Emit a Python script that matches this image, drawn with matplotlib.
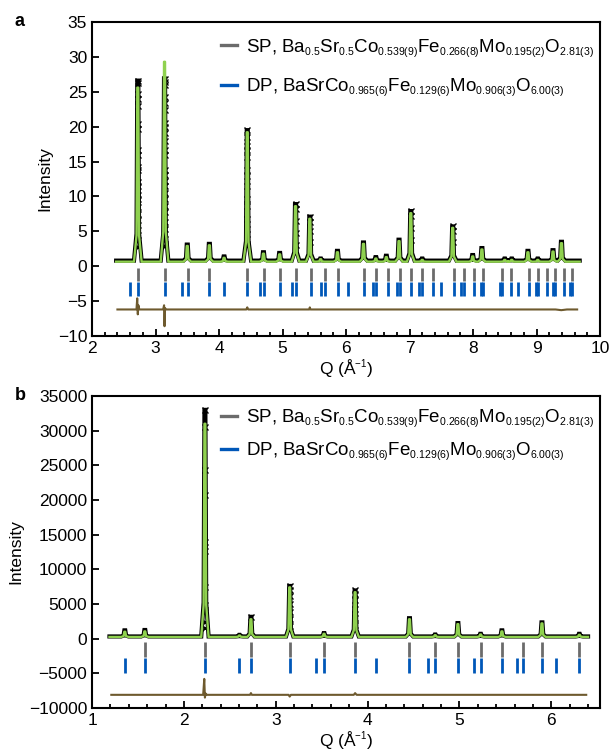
import numpy as np
import matplotlib
matplotlib.use("Agg")
import matplotlib.pyplot as plt
import matplotlib._mathtext as mathtext_internal
from matplotlib.ticker import MultipleLocator

plt.rcParams["font.family"] = ["Liberation Sans", "DejaVu Sans"]
plt.rcParams["mathtext.fontset"] = "custom"
plt.rcParams["mathtext.rm"] = "Liberation Sans"
plt.rcParams["mathtext.it"] = "Liberation Sans:italic"
plt.rcParams["mathtext.bf"] = "Liberation Sans:bold"
plt.rcParams["mathtext.default"] = "rm"
# the subscripts in the figure are set noticeably smaller than mathtext's default
mathtext_internal.SHRINK_FACTOR = 0.56

# ---------------- panel a ----------------
a_peak_q = [2.721, 3.142, 3.50, 3.848, 4.08, 4.445, 4.70, 4.955, 5.205, 5.43,
            5.60, 5.865, 6.275, 6.47, 6.635, 6.835, 7.02, 7.20, 7.68, 7.995,
            8.14, 8.50, 8.61, 8.865, 9.02, 9.26, 9.393]
a_calc_h = [25.6, 29.3, 2.9, 3.0, 1.2, 19.2, 1.8, 1.7, 8.6, 6.8,
            1.0, 2.0, 3.2, 1.1, 1.3, 3.6, 7.6, 0.9, 5.5, 1.4,
            2.4, 0.9, 0.9, 2.0, 0.9, 2.1, 3.3]
a_obs_h = [26.6, 26.9, 3.1, 3.2, 1.4, 19.5, 2.0, 1.9, 8.9, 7.1,
           1.1, 2.2, 3.4, 1.3, 1.5, 3.8, 7.9, 1.1, 5.7, 1.6,
           2.6, 1.1, 1.1, 2.2, 1.1, 2.3, 3.5]
a_calc_base = 0.65
a_obs_base = 0.8
a_q_range = (2.38, 9.68)

# individual observed points visible on the strong peaks
a_pts_q = ([2.721] * 21 + [3.142] * 24 + [4.445] * 14 + [5.205] * 5
           + [5.43] * 4 + [7.02] * 4 + [7.68] * 3)
a_pts_i = [26.6, 26.2, 24.7, 23.9, 22.9, 20.4, 19.7, 16.6, 15.9, 14.2, 13.8,
           12.1, 11.5, 10.2, 9.7, 8.5, 7.5, 6.6, 5.2, 3.7, 2.8,
           26.9, 26.4, 26.0, 24.3, 23.4, 22.4, 20.5, 20.0, 19.1, 17.9, 16.7,
           16.0, 13.8, 13.1, 12.2, 11.5, 10.5, 9.6, 8.6, 7.7, 6.3, 5.3, 3.9, 2.9,
           19.5, 18.5, 17.2, 16.7, 15.7, 13.8, 12.9, 11.5, 9.6, 8.6, 6.7, 5.3,
           3.9, 2.9,
           8.9, 8.2, 6.5, 4.7, 3.0,
           7.1, 6.4, 5.0, 3.5,
           7.9, 7.2, 5.5, 3.8,
           5.7, 5.0, 3.5]

a_diff_q = [2.40, 2.70, 2.712, 2.721, 2.730, 2.745, 3.12, 3.135, 3.142, 3.150,
            3.165, 4.43, 4.445, 4.46, 5.42, 5.43, 5.44, 9.30, 9.39, 9.48, 9.64]
a_diff_i = [-6.2, -6.2, -4.6, -6.9, -5.6, -6.2, -6.2, -5.6, -8.6, -6.0,
            -6.2, -6.2, -5.9, -6.2, -6.2, -5.9, -6.2, -6.2, -6.3, -6.2, -6.2]

a_sp_ticks = [2.721, 3.142, 3.513, 3.848, 4.443, 4.713, 4.968, 5.21, 5.442,
              5.664, 5.878, 6.284, 6.477, 6.665, 6.848, 7.026, 7.199, 7.369,
              7.696, 7.855, 8.01, 8.163, 8.46, 8.605, 8.887, 9.025, 9.161,
              9.294, 9.426, 9.556]
a_dp_extra = [2.605, 3.424, 4.082, 4.647, 5.151, 5.610, 6.033, 6.43, 6.80,
              7.156, 7.493, 7.816, 8.125, 8.424, 8.712, 8.99, 9.261, 9.524]
a_dp_ticks = sorted(a_sp_ticks + a_dp_extra)

# ---------------- panel b ----------------
b_peak_q = [1.357, 1.575, 2.229, 2.605, 2.730, 3.152, 3.526, 3.864, 4.456,
            4.736, 4.983, 5.23, 5.462, 5.898, 6.305]
b_calc_h = [1000, 1050, 31000, 450, 2800, 7400, 700, 6700, 2800,
            500, 2100, 600, 1050, 2200, 550]
b_obs_h = [1200, 1250, 33000, 550, 3150, 7600, 800, 6950, 2950,
           600, 2250, 700, 1200, 2350, 700]
b_calc_base = 250
b_obs_base = 320
b_q_range = (1.19, 6.40)

b_pts_q = [2.229] * 11 + [2.730] + [3.152] * 7 + [3.864] * 6
b_pts_i = [33000, 30600, 24300, 20700, 14000, 12650, 7500, 4860, 3900, 2450, 1500,
           3170,
           7600, 7000, 6200, 5000, 3900, 2800, 1800,
           6950, 6500, 5600, 4300, 3000, 1900]

b_diff_q = [1.21, 2.21, 2.222, 2.229, 2.236, 2.25, 2.72, 2.73, 2.74, 3.14,
            3.152, 3.165, 3.85, 3.864, 3.88, 6.38]
b_diff_i = [-8100, -8100, -5800, -8500, -7900, -8100, -8100, -7850, -8100,
            -8100, -8350, -8100, -8100, -7850, -8100, -8100]

b_sp_ticks = [1.575, 2.229, 2.730, 3.152, 3.526, 3.864, 4.456, 4.736, 4.983,
              5.23, 5.462, 5.688, 5.898, 6.305]
b_dp_extra = [1.357, 2.605, 3.435, 4.093, 4.656, 5.161, 5.626, 6.05]
b_dp_ticks = sorted(b_sp_ticks + b_dp_extra)

sp_label = (r"SP, Ba$_{0.5}$Sr$_{0.5}$Co$_{0.539(9)}$Fe$_{0.266(8)}$"
            r"Mo$_{0.195(2)}$O$_{2.81(3)}$")
dp_label = (r"DP, BaSrCo$_{0.965(6)}$Fe$_{0.129(6)}$Mo$_{0.906(3)}$"
            r"O$_{6.00(3)}$")

GREEN = "#8fd14f"
BROWN = "#6e5a2e"
GREY = "#6b6b6b"
BLUE = "#0057b8"


def profile(qs, hs, base, q_range, foot, shoulder, top):
    # polyline outline of narrow diffraction peaks on a flat background
    x = [q_range[0]]
    y = [base]
    for q, h in zip(qs, hs):
        x += [q - foot, q - shoulder, q - top, q + top, q + shoulder, q + foot]
        y += [base, base + 0.15 * (h - base), h, h, base + 0.15 * (h - base), base]
    x.append(q_range[1])
    y.append(base)
    return x, y


def draw_panel(ax, peak_q, calc_h, obs_h, calc_base, obs_base, q_range,
               pts_q, pts_i, diff_q, diff_i, sp_ticks, dp_ticks,
               sp_span, dp_span, foot, shoulder, top, leg_anchor, leg_spacing):
    ox, oy = profile(peak_q, obs_h, obs_base, q_range, foot, shoulder, top)
    cx, cy = profile(peak_q, calc_h, calc_base, q_range, foot, shoulder, top)
    ax.plot(ox, oy, color="black", lw=3.0, solid_joinstyle="miter", zorder=2)
    ax.plot(pts_q, pts_i, ls="none", marker="x", ms=3.8, mew=1.0,
            color="black", zorder=2)
    ax.plot(cx, cy, color=GREEN, lw=1.7, zorder=3)
    ax.plot(diff_q, diff_i, color=BROWN, lw=1.5, zorder=3)
    ax.vlines(sp_ticks, sp_span[0], sp_span[1], color=GREY, lw=2.0)
    ax.vlines(dp_ticks, dp_span[0], dp_span[1], color=BLUE, lw=2.0)
    ax.plot([], [], color=GREY, lw=2.4, label=sp_label)
    ax.plot([], [], color=BLUE, lw=2.4, label=dp_label)
    ax.legend(loc="upper right", bbox_to_anchor=leg_anchor, frameon=False,
              fontsize=13.5, handlelength=0.9, handletextpad=0.45,
              labelspacing=leg_spacing, borderaxespad=0, borderpad=0)
    for s in ax.spines.values():
        s.set_linewidth(1.5)
    ax.tick_params(which="both", direction="in", top=False, right=False,
                   labelsize=12.5, width=1.3)
    ax.tick_params(which="major", length=5)
    ax.tick_params(which="minor", length=3)
    ax.xaxis.set_major_locator(MultipleLocator(1))
    ax.xaxis.set_minor_locator(MultipleLocator(0.2))
    ax.set_xlabel(r"Q (Å$^{-1}$)", fontsize=12.5, labelpad=1)
    ax.set_ylabel("Intensity", fontsize=12.5, labelpad=4)


fig = plt.figure(figsize=(6.11, 7.54), dpi=100)
ax1 = fig.add_axes([0.1506, 0.5544, 0.8314, 0.4164])
ax2 = fig.add_axes([0.1506, 0.0610, 0.8314, 0.4138])

draw_panel(ax1, a_peak_q, a_calc_h, a_obs_h, a_calc_base, a_obs_base, a_q_range,
           a_pts_q, a_pts_i, a_diff_q, a_diff_i, a_sp_ticks, a_dp_ticks,
           (-0.2, -2.1), (-2.3, -4.3), 0.06, 0.02, 0.008,
           (0.988, 0.952), 0.95)
ax1.set_xlim(2, 10)
ax1.set_ylim(-10, 35)
ax1.yaxis.set_major_locator(MultipleLocator(5))

draw_panel(ax2, b_peak_q, b_calc_h, b_obs_h, b_calc_base, b_obs_base, b_q_range,
           b_pts_q, b_pts_i, b_diff_q, b_diff_i, b_sp_ticks, b_dp_ticks,
           (-500, -2600), (-2800, -5000), 0.04, 0.014, 0.005,
           (0.988, 0.963), 0.6)
ax2.set_xlim(1, 6.53)
ax2.set_ylim(-10000, 35000)
ax2.yaxis.set_major_locator(MultipleLocator(5000))

fig.text(15 / 611, 1 - 22 / 754, "a", fontsize=13, fontweight="bold",
         ha="left", va="center")
fig.text(15 / 611, 1 - 396 / 754, "b", fontsize=13, fontweight="bold",
         ha="left", va="center")

fig.savefig("out.png", dpi=100)
